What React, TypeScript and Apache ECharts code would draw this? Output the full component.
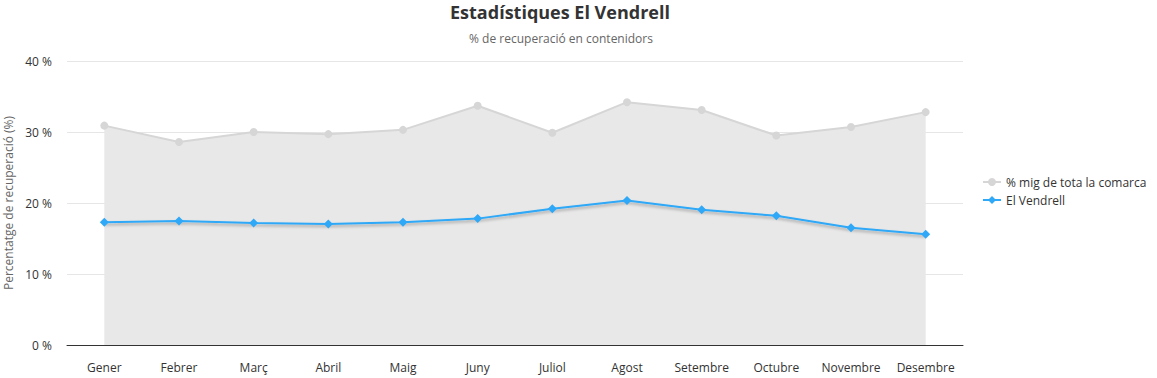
import React, { useEffect, useRef } from "react";
import * as echarts from "echarts";

const months = ["Gener", "Febrer", "Març", "Abril", "Maig", "Juny", "Juliol", "Agost", "Setembre", "Octubre", "Novembre", "Desembre"];
const comarcaValues = [30.9, 28.6, 30.0, 29.7, 30.3, 33.7, 29.9, 34.2, 33.1, 29.5, 30.7, 32.8];
const vendrellValues = [17.3, 17.45, 17.2, 17.05, 17.3, 17.8, 19.2, 20.35, 19.05, 18.2, 16.5, 15.6];
const yTicks = { min: 0, max: 40, interval: 10 };

const FONT = "'Open Sans', 'Noto Sans', sans-serif";

export default function App() {
  const ref = useRef<HTMLDivElement>(null);
  useEffect(() => {
    if (!ref.current) return;
    const chart = echarts.init(ref.current, undefined, { renderer: "svg" });
    chart.setOption({
      animation: false,
      textStyle: { fontFamily: FONT },
      title: [
        {
          text: "Estadístiques El Vendrell",
          left: 555,
          top: -2,
          textAlign: "center",
          textStyle: { fontSize: 18, fontWeight: "bold", color: "#333", fontFamily: FONT },
        },
        {
          text: "% de recuperació en contenidors",
          left: 556,
          top: 27,
          textAlign: "center",
          textStyle: { fontSize: 12, fontWeight: "normal", color: "#666", fontFamily: FONT },
        },
      ],
      legend: {
        orient: "vertical",
        left: 977,
        top: 171,
        itemGap: 6,
        itemWidth: 18,
        itemHeight: 10,
        textStyle: { fontSize: 12, color: "#333", fontFamily: FONT },
        data: ["% mig de tota la comarca", "El Vendrell"],
      },
      grid: { left: 67, right: 194, top: 61, bottom: 33, containLabel: false, outerBoundsMode: "none" },
      xAxis: {
        type: "category",
        data: months,
        boundaryGap: true,
        axisLine: { lineStyle: { color: "#333", width: 1 } },
        axisTick: { show: false },
        axisLabel: { color: "#333", fontSize: 12, margin: 16, fontFamily: FONT, interval: 0 },
      },
      yAxis: {
        type: "value",
        min: yTicks.min,
        max: yTicks.max,
        interval: yTicks.interval,
        name: "Percentatge de recuperació (%)",
        nameLocation: "middle",
        nameGap: 51,
        nameTextStyle: { color: "#666", fontSize: 12, fontFamily: FONT },
        axisLine: { show: false },
        axisTick: { show: false },
        axisLabel: { formatter: "{value} %", color: "#333", fontSize: 12, margin: 15, fontFamily: FONT },
        splitLine: { lineStyle: { color: "#e6e6e6" } },
      },
      series: [
        {
          name: "% mig de tota la comarca",
          type: "line",
          data: comarcaValues,
          symbol: "circle",
          symbolSize: 8,
          itemStyle: { color: "#d6d6d6" },
          lineStyle: { color: "#d6d6d6", width: 2 },
          areaStyle: { color: "#e8e8e8", opacity: 1 },
          z: 1,
        },
        {
          name: "El Vendrell",
          type: "line",
          data: vendrellValues,
          symbol: "diamond",
          symbolSize: 9,
          itemStyle: { color: "#2ea8f7" },
          lineStyle: {
            color: "#2ea8f7",
            width: 2,
            shadowColor: "rgba(0,0,0,0.3)",
            shadowBlur: 3,
            shadowOffsetY: 2,
          },
          z: 3,
        },
      ],
    });
    return () => chart.dispose();
  }, []);
  return (
    <div
      ref={ref}
      style={{ position: "fixed", left: 0, top: 0, width: 1157, height: 378, background: "#fff" }}
    />
  );
}
